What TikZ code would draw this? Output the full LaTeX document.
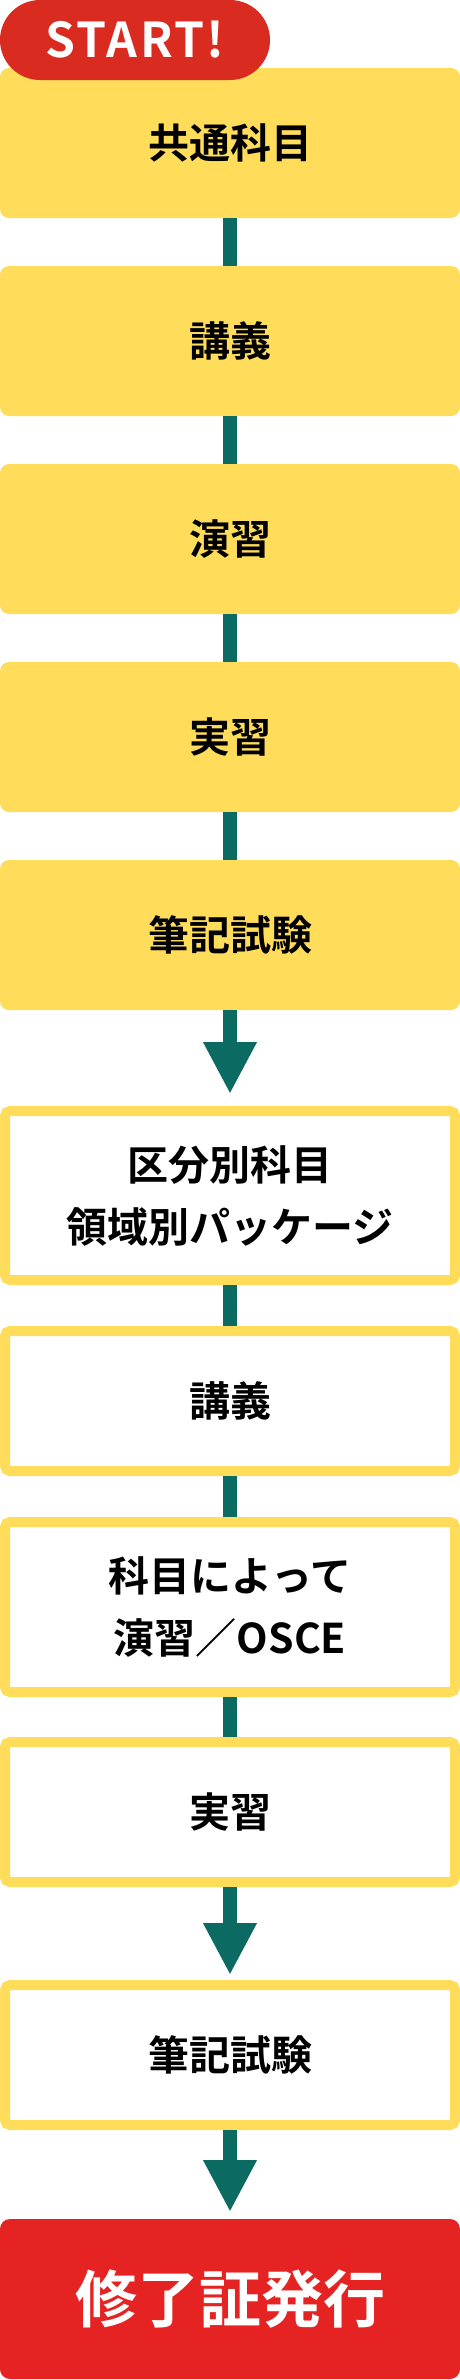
\documentclass[tikz,border=0pt]{standalone}
\usepackage{fontspec}
\setmainfont{Noto Sans CJK JP}[BoldFont={* Bold}]
\usetikzlibrary{arrows.meta}
\definecolor{ylw}{HTML}{FFDD5B}
\definecolor{tealc}{HTML}{0B6A62}
\definecolor{redA}{HTML}{D92B20}
\definecolor{redB}{HTML}{E62323}
\begin{document}
\begin{tikzpicture}[x=1pt,y=-1pt,
  solidbox/.style={fill=ylw, rounded corners=9pt, minimum width=460pt, minimum height=150pt,
    inner sep=0pt, outer sep=0pt, text=black, align=center, font=\fontsize{41}{62}\selectfont\bfseries},
  outlbox/.style={draw=ylw, line width=10pt, fill=white, rounded corners=5pt, minimum width=450pt,
    minimum height=140pt, inner sep=0pt, text=black, align=center, font=\fontsize{41}{62}\selectfont\bfseries},
  endbox/.style={fill=redB, rounded corners=10pt, minimum width=460pt, minimum height=160pt,
    inner sep=0pt, outer sep=0pt, text=white, font=\fontsize{62}{62}\selectfont\bfseries},
  pill/.style={fill=redA, rounded corners=40pt, minimum width=270pt, minimum height=80pt,
    inner sep=0pt, outer sep=0pt, text=white, font=\fontsize{48}{48}\selectfont\bfseries\addfontfeature{LetterSpace=5}},
  conn/.style={draw=tealc, line width=14pt},
  arr/.style={draw=tealc, line width=14pt, -{Triangle[width=50pt,length=52pt]}, fill=tealc}
]
\useasboundingbox (0,0) rectangle (460,2380);
\node[solidbox] (b1) at (230,143) {共通科目};
\node[solidbox] (b2) at (230,341) {講義};
\node[solidbox] (b3) at (230,539) {演習};
\node[solidbox] (b4) at (230,737) {実習};
\node[solidbox] (b5) at (230,935) {筆記試験};
\node[outlbox, minimum height=169pt] (b6) at (230,1195.5) {区分別科目\\領域別パッケージ};
\node[outlbox, minimum height=140pt] (b7) at (230,1401) {講義};
\node[outlbox, minimum height=170pt] (b8) at (230,1607) {科目によって\\演習／OSCE};
\node[outlbox] (b9) at (230,1812) {実習};
\node[outlbox] (b10) at (230,2055) {筆記試験};
\node[endbox] (fin) at (230,2299) {修了証発行};
\node[pill] (start) at (135,40) {START!};
\draw[conn] (b1) -- (b2);
\draw[conn] (b2) -- (b3);
\draw[conn] (b3) -- (b4);
\draw[conn] (b4) -- (b5);
\draw[arr, shorten >=12pt] (b5) -- (b6);
\draw[conn] (b6) -- (b7);
\draw[conn] (b7) -- (b8);
\draw[conn] (b8) -- (b9);
\draw[arr, shorten >=5pt] (b9) -- (b10);
\draw[arr, shorten >=7pt] (b10) -- (fin);
\end{tikzpicture}
\end{document}
